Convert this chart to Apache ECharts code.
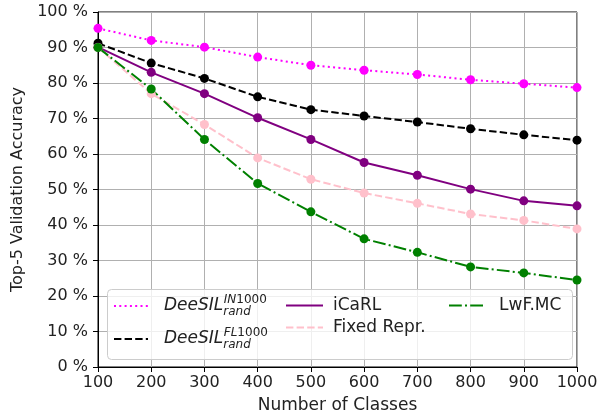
<!DOCTYPE html>
<html>
<head>
<meta charset="utf-8">
<script src="https://cdn.jsdelivr.net/npm/echarts@6/dist/echarts.min.js"></script>
<style>html,body{margin:0;padding:0;background:#fff;}#c{width:601px;height:419px;}</style>
</head>
<body>
<div id="c"></div>
<script>
var classes = [100, 200, 300, 400, 500, 600, 700, 800, 900, 1000];
var deesilIN = [95.4, 92.0, 90.1, 87.3, 85.0, 83.6, 82.4, 80.9, 79.8, 78.7];
var deesilFL = [91.2, 85.6, 81.3, 76.1, 72.5, 70.7, 69.0, 67.1, 65.4, 63.9];
var icarl = [90.1, 83.0, 77.0, 70.2, 64.1, 57.6, 54.0, 50.1, 46.8, 45.4];
var fixedRepr = [90.0, 77.0, 68.3, 58.9, 52.9, 49.0, 46.1, 43.1, 41.3, 38.9];
var lwfmc = [90.0, 78.3, 64.1, 51.7, 43.7, 36.1, 32.3, 28.2, 26.5, 24.5];
var yTicks = [0, 10, 20, 30, 40, 50, 60, 70, 80, 90, 100];

var FONT = 'DejaVu Sans';
function pairs(v) { return classes.map(function (c, i) { return [c, v[i]]; }); }

var chart = echarts.init(document.getElementById('c'), null, { renderer: 'canvas' });

function mkSeries(name, data, color, type) {
  return {
    name: name, type: 'line', data: pairs(data),
    symbol: 'circle', symbolSize: 9,
    lineStyle: { color: color, width: 2, type: type },
    itemStyle: { color: color },
    z: 2
  };
}

var richDee = {
  it: { fontFamily: FONT, fontStyle: 'italic', fontSize: 17, color: '#222', lineHeight: 24, padding: [0, 0, 0, 11] },
  sub: { fontFamily: FONT, fontStyle: 'italic', fontSize: 12, color: '#222', lineHeight: 12, verticalAlign: 'bottom', width: 0.5 },
  supi: { fontFamily: FONT, fontStyle: 'italic', fontSize: 12, color: '#222', lineHeight: 12, verticalAlign: 'top' },
  supn: { fontFamily: FONT, fontSize: 12, color: '#222', lineHeight: 12, verticalAlign: 'top' }
};

var option = {
  animation: false,
  backgroundColor: '#fff',
  grid: { left: 98, right: 24, top: 12, bottom: 50, show: true, borderColor: '#000', borderWidth: 1, backgroundColor: 'transparent' },
  xAxis: {
    type: 'value', min: 100, max: 1000, interval: 100,
    name: 'Number of Classes', nameLocation: 'middle', nameGap: 30,
    nameTextStyle: { fontFamily: FONT, fontSize: 17, color: '#222' },
    axisLine: { lineStyle: { color: '#000', width: 1 } },
    axisTick: { show: true, length: 5, lineStyle: { color: '#000' } },
    axisLabel: { fontFamily: FONT, fontSize: 16, color: '#222', margin: 8,
      formatter: function (v) { return String(v); } },
    splitLine: { show: true, lineStyle: { color: '#b0b0b0', width: 1 } }
  },
  yAxis: {
    type: 'value', min: 0, max: 100, interval: 10,
    name: 'Top-5 Validation Accuracy', nameLocation: 'middle', nameGap: 70,
    nameTextStyle: { fontFamily: FONT, fontSize: 16, color: '#222' },
    axisLine: { show: true, lineStyle: { color: '#000', width: 1 } },
    axisTick: { show: true, length: 5, lineStyle: { color: '#000' } },
    axisLabel: { fontFamily: FONT, fontSize: 16, color: '#222', margin: 10,
      formatter: function (v) { return yTicks.indexOf(v) >= 0 ? v + ' %' : ''; } },
    splitLine: { show: true, lineStyle: { color: '#b0b0b0', width: 1 } }
  },
  graphic: [{
    type: 'rect', left: 107, top: 289, z: 3,
    shape: { width: 465, height: 70, r: 4 },
    style: { fill: 'rgba(255,255,255,0.8)', stroke: '#cccccc', lineWidth: 1 }
  }],
  legend: [
    {
      left: 113, top: 294, orient: 'vertical', padding: 0, itemGap: 9, itemWidth: 34, itemHeight: 14,
      z: 5, itemStyle: { opacity: 0 },
      data: ['DeeSIL_IN', 'DeeSIL_FL'],
      formatter: function (n) {
        return n === 'DeeSIL_IN' ? '{it|DeeSIL}{sub|rand}{supi|IN}{supn|1000}' : '{it|DeeSIL}{sub|rand}{supi|FL}{supn|1000}';
      },
      textStyle: { rich: richDee }
    },
    {
      left: 285, top: 297, orient: 'vertical', padding: 0, itemGap: 5, itemWidth: 37, itemHeight: 14,
      z: 5, itemStyle: { opacity: 0 },
      data: ['iCaRL', 'Fixed Repr.'],
      formatter: function (n) { return '{t|' + n + '}'; },
      textStyle: { rich: { t: { fontFamily: FONT, fontSize: 17, color: '#222', lineHeight: 20, padding: [0, 0, 0, 5] } } }
    },
    {
      left: 448, top: 297, orient: 'vertical', padding: 0, itemGap: 5, itemWidth: 35, itemHeight: 14,
      z: 5, itemStyle: { opacity: 0 },
      data: ['LwF.MC'],
      formatter: function (n) { return '{t|' + n + '}'; },
      textStyle: { rich: { t: { fontFamily: FONT, fontSize: 17, color: '#222', lineHeight: 20, padding: [0, 0, 0, 10] } } }
    }
  ],
  series: [
    mkSeries('DeeSIL_IN', deesilIN, '#ff00ff', [2, 3.3]),
    mkSeries('DeeSIL_FL', deesilFL, '#000000', [7.4, 3.2]),
    mkSeries('iCaRL', icarl, '#800080', 'solid'),
    mkSeries('Fixed Repr.', fixedRepr, '#ffc0cb', [7.4, 3.2]),
    mkSeries('LwF.MC', lwfmc, '#008000', [12.8, 3.2, 2, 3.2])
  ]
};
chart.setOption(option);
</script>
</body>
</html>
